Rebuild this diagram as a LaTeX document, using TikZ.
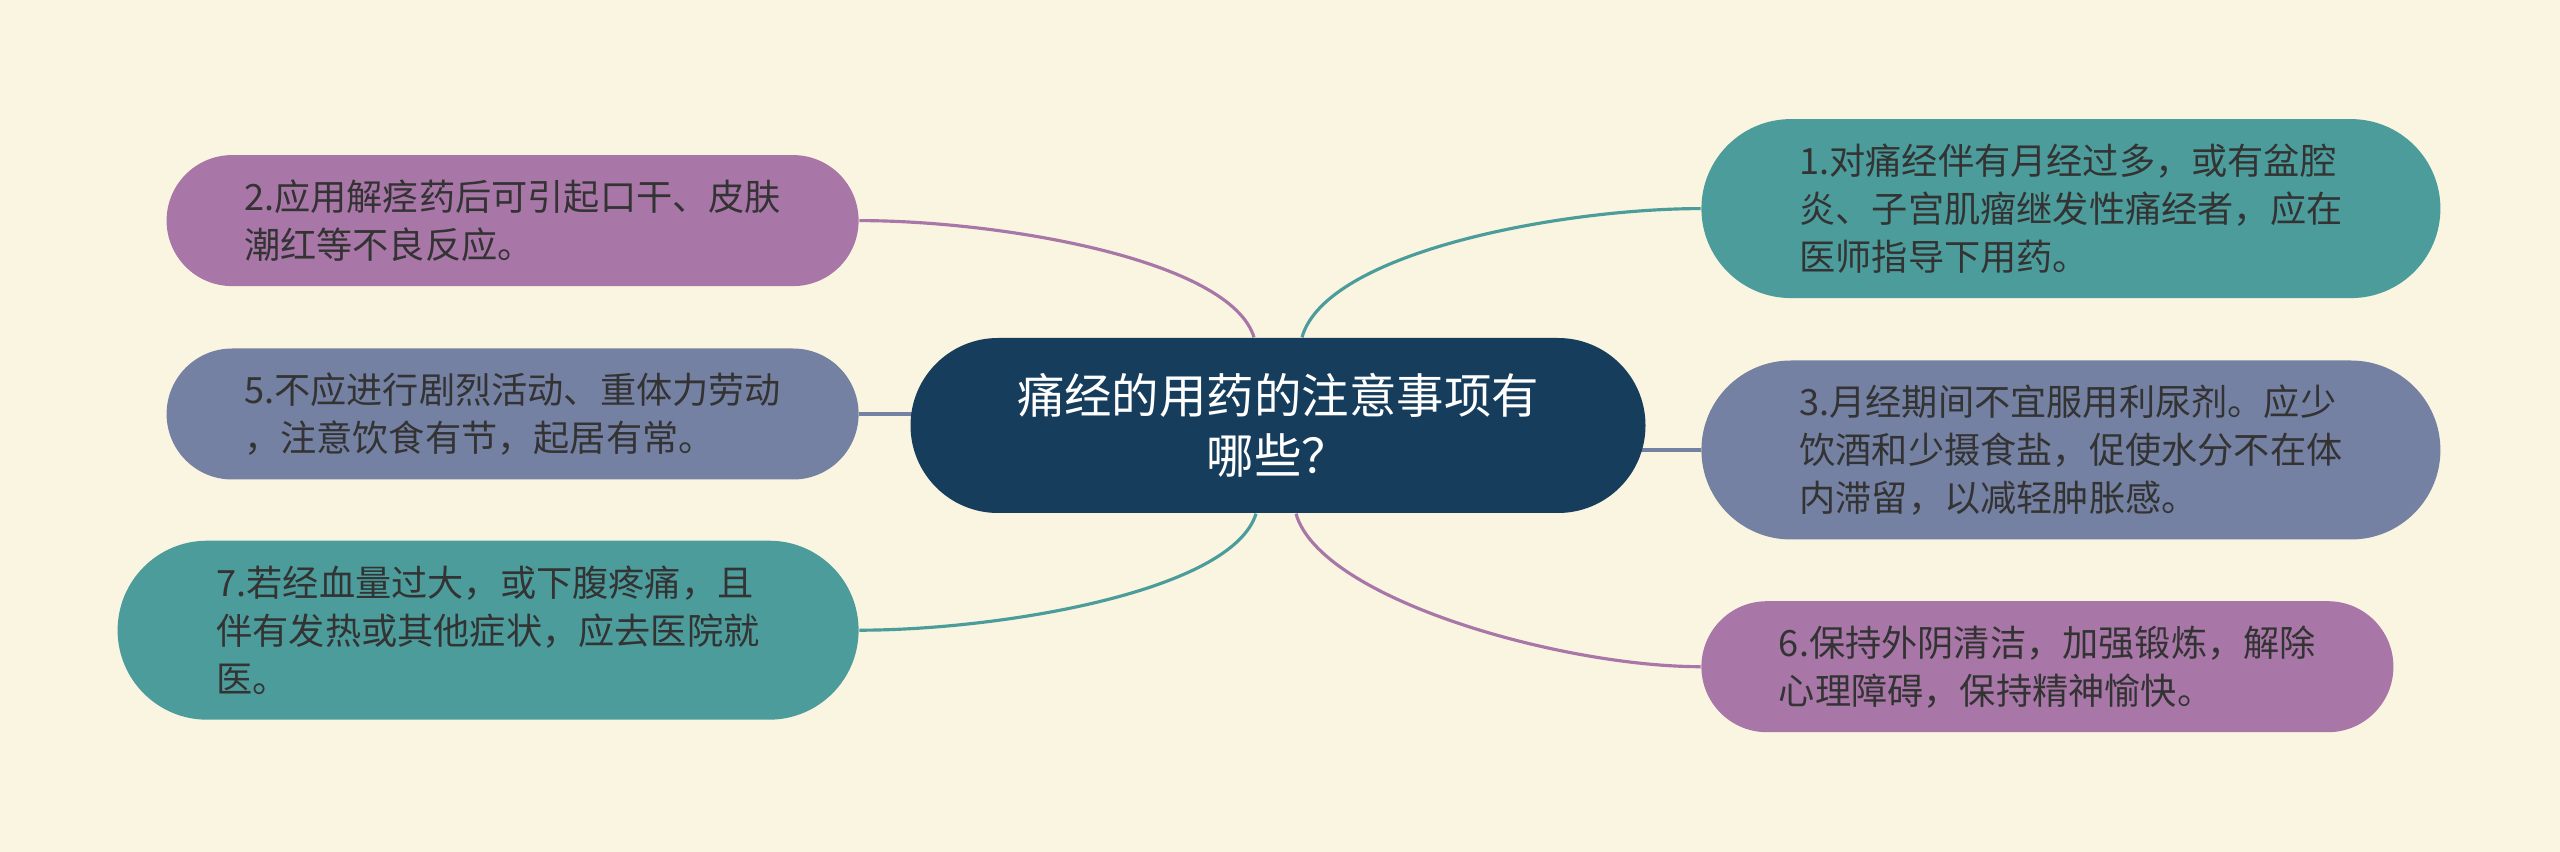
\documentclass[tikz,border=0pt]{standalone}
\usepackage{fontspec}
\newfontfamily\cjk{Noto Sans CJK SC}
\usetikzlibrary{positioning,shapes.misc,backgrounds}

\definecolor{paper}{HTML}{F9F5E0}
\definecolor{navy}{HTML}{173D5C}
\definecolor{plum}{HTML}{A877A8}
\definecolor{sea}{HTML}{4C9C9C}
\definecolor{slate}{HTML}{7581A3}
\definecolor{ink}{HTML}{333333}

\tikzset{
  topic/.style={rounded rectangle, fill=navy, text=white, align=center, inner sep=0pt,
    minimum width=7.35cm, minimum height=1.75cm, font=\cjk\fontsize{13.5pt}{17.2pt}\selectfont},
  leaf/.style={rounded rectangle, text=ink, align=left, inner sep=0pt,
    font=\cjk\fontsize{10.3pt}{13.7pt}\selectfont},
  twoline/.style={leaf, minimum width=6.92cm, minimum height=1.31cm},
  threeline/.style={leaf, minimum width=7.39cm, minimum height=1.79cm},
  branch/.style={line width=0.9pt},
}

\begin{document}
\begin{tikzpicture}
  \useasboundingbox (0,0) rectangle (25.6,-8.52);
  \begin{scope}[on background layer]
    \fill[paper] (0,0) rectangle (25.6,-8.52);
  \end{scope}

  % Nodes
  \node[topic] (root) at (12.78,-4.255) {痛经的用药的注意事项有\\哪些？};

  \node[twoline, fill=slate, left=0.505cm of root, yshift=0.115cm] (n5) {5.不应进行剧烈活动、重体力劳动\\，注意饮食有节，起居有常。};
  \node[twoline, fill=plum, above=0.61cm of n5] (n2) {2.应用解痉药后可引起口干、皮肤\\潮红等不良反应。};
  \node[threeline, fill=sea, anchor=east, minimum width=7.41cm] (n7) at ([yshift=-1.5cm]n5.east |- n5.south) {7.若经血量过大，或下腹疼痛，且\\伴有发热或其他症状，应去医院就\\医。};

  \node[threeline, fill=slate, right=0.545cm of root, yshift=-0.245cm] (n3) {3.月经期间不宜服用利尿剂。应少\\饮酒和少摄食盐，促使水分不在体\\内滞留，以减轻肿胀感。};
  \node[threeline, fill=sea, above=0.61cm of n3] (n1) {1.对痛经伴有月经过多，或有盆腔\\炎、子宫肌瘤继发性痛经者，应在\\医师指导下用药。};
  \node[twoline, fill=plum, anchor=west] (n6) at ([yshift=-1.265cm]n3.west |- n3.south) {6.保持外阴清洁，加强锻炼，解除\\心理障碍，保持精神愉快。};

  % Edges
  \begin{scope}[on background layer]
    \draw[branch, plum] ([xshift=-0.24cm]root.north) .. controls +(-0.24,0.78) and +(1.4,0) .. (n2.east);
    \draw[branch, sea] ([xshift=0.24cm]root.north) .. controls +(0.24,0.85) and +(-1.4,0) .. (n1.west);
    \draw[branch, slate] (n5.east) -- (n5.east -| root.center);
    \draw[branch, slate] (n3.west) -- (n3.west -| root.center);
    \draw[branch, sea] ([xshift=-0.22cm]root.south) .. controls +(-0.24,-0.78) and +(1.4,0) .. (n7.east);
    \draw[branch, plum] ([xshift=0.18cm]root.south) .. controls +(0.24,-0.85) and +(-1.4,0) .. (n6.west);
  \end{scope}
\end{tikzpicture}
\end{document}
